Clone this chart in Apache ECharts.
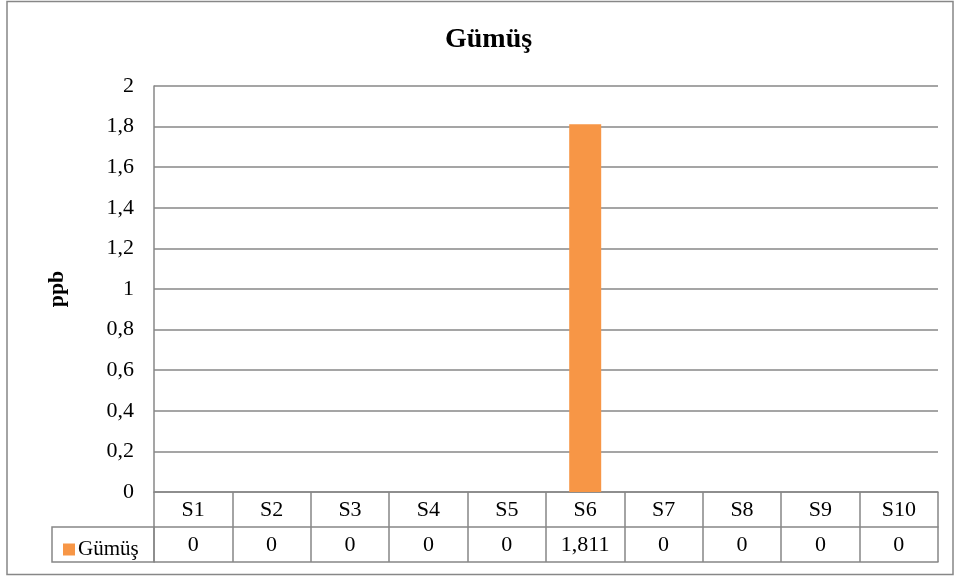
<!DOCTYPE html>
<html>
<head>
<meta charset="utf-8">
<script src="https://cdn.jsdelivr.net/npm/echarts@6/dist/echarts.min.js"></script>
<style>
html, body { margin: 0; padding: 0; background: #fff; }
#main { width: 960px; height: 576px; }
</style>
</head>
<body>
<div id="main"></div>
<script>
// veriler
var categories = ['S1', 'S2', 'S3', 'S4', 'S5', 'S6', 'S7', 'S8', 'S9', 'S10'];
var gumusValues = [0, 0, 0, 0, 0, 1.811, 0, 0, 0, 0];
var seriesName = 'Gümüş';

var serif = 'Liberation Serif';
var lineColor = '#878787';

// virgüllü ondalık
function fmt(v) {
    return String(Math.round(v * 1000) / 1000).replace('.', ',');
}

var myChart = echarts.init(document.getElementById('main'));

var option = {
    backgroundColor: '#fff',
    title: {
        text: 'Gümüş',
        left: 440,
        top: 21,
        textStyle: { fontFamily: serif, fontWeight: 'bold', fontSize: 28, color: '#000' }
    },
    legend: {
        data: [seriesName],
        left: 58,
        top: 534,
        icon: 'rect',
        itemWidth: 12,
        itemHeight: 12,
        itemGap: 4,
        textStyle: { fontFamily: serif, fontSize: 21, color: '#000', padding: [0, 0, 0, -2] }
    },
    grid: { left: 154, right: 22, top: 86, bottom: 84, containLabel: false },
    xAxis: [
        {
            type: 'category',
            data: categories,
            axisLine: { lineStyle: { color: lineColor, width: 1.5 } },
            axisTick: { show: true, length: 70, lineStyle: { color: lineColor, width: 1.5 } },
            axisLabel: { fontFamily: serif, fontSize: 22, color: '#000', margin: 7 }
        },
        {
            type: 'category',
            data: categories,
            position: 'bottom',
            offset: 35,
            axisLine: { lineStyle: { color: lineColor, width: 1.5 } },
            axisTick: { show: false },
            axisLabel: {
                fontFamily: serif, fontSize: 22, color: '#000', margin: 7,
                formatter: function (value, index) { return fmt(gumusValues[index]); }
            }
        },
        {
            type: 'category',
            data: categories,
            position: 'bottom',
            offset: 70,
            axisLine: { lineStyle: { color: lineColor, width: 1.5 } },
            axisTick: { show: false },
            axisLabel: { show: false }
        }
    ],
    yAxis: {
        type: 'value',
        min: 0,
        max: 2,
        interval: 0.2,
        name: 'ppb',
        nameLocation: 'middle',
        nameRotate: 90,
        nameGap: 86,
        nameTextStyle: { fontFamily: serif, fontWeight: 'bold', fontSize: 22, color: '#000' },
        axisLine: { show: true, lineStyle: { color: lineColor, width: 1.5 } },
        axisTick: { show: false },
        axisLabel: {
            fontFamily: serif, fontSize: 22, color: '#000', margin: 20,
            formatter: function (v) { return fmt(v); }
        },
        splitLine: { lineStyle: { color: lineColor, width: 1.5 } }
    },
    series: [{
        name: seriesName,
        type: 'bar',
        xAxisIndex: 0,
        data: gumusValues,
        barWidth: 32,
        itemStyle: { color: '#F79646' }
    }],
    graphic: [
        // dış çerçeve
        {
            type: 'rect',
            shape: { x: 7, y: 1.5, width: 946, height: 573 },
            style: { fill: 'none', stroke: lineColor, lineWidth: 1.5 },
            silent: true
        },
        // tablo lejant hücresi
        {
            type: 'rect',
            shape: { x: 52, y: 527, width: 102, height: 35 },
            style: { fill: 'none', stroke: lineColor, lineWidth: 1.5 },
            silent: true
        }
    ]
};

myChart.setOption(option);
</script>
</body>
</html>
